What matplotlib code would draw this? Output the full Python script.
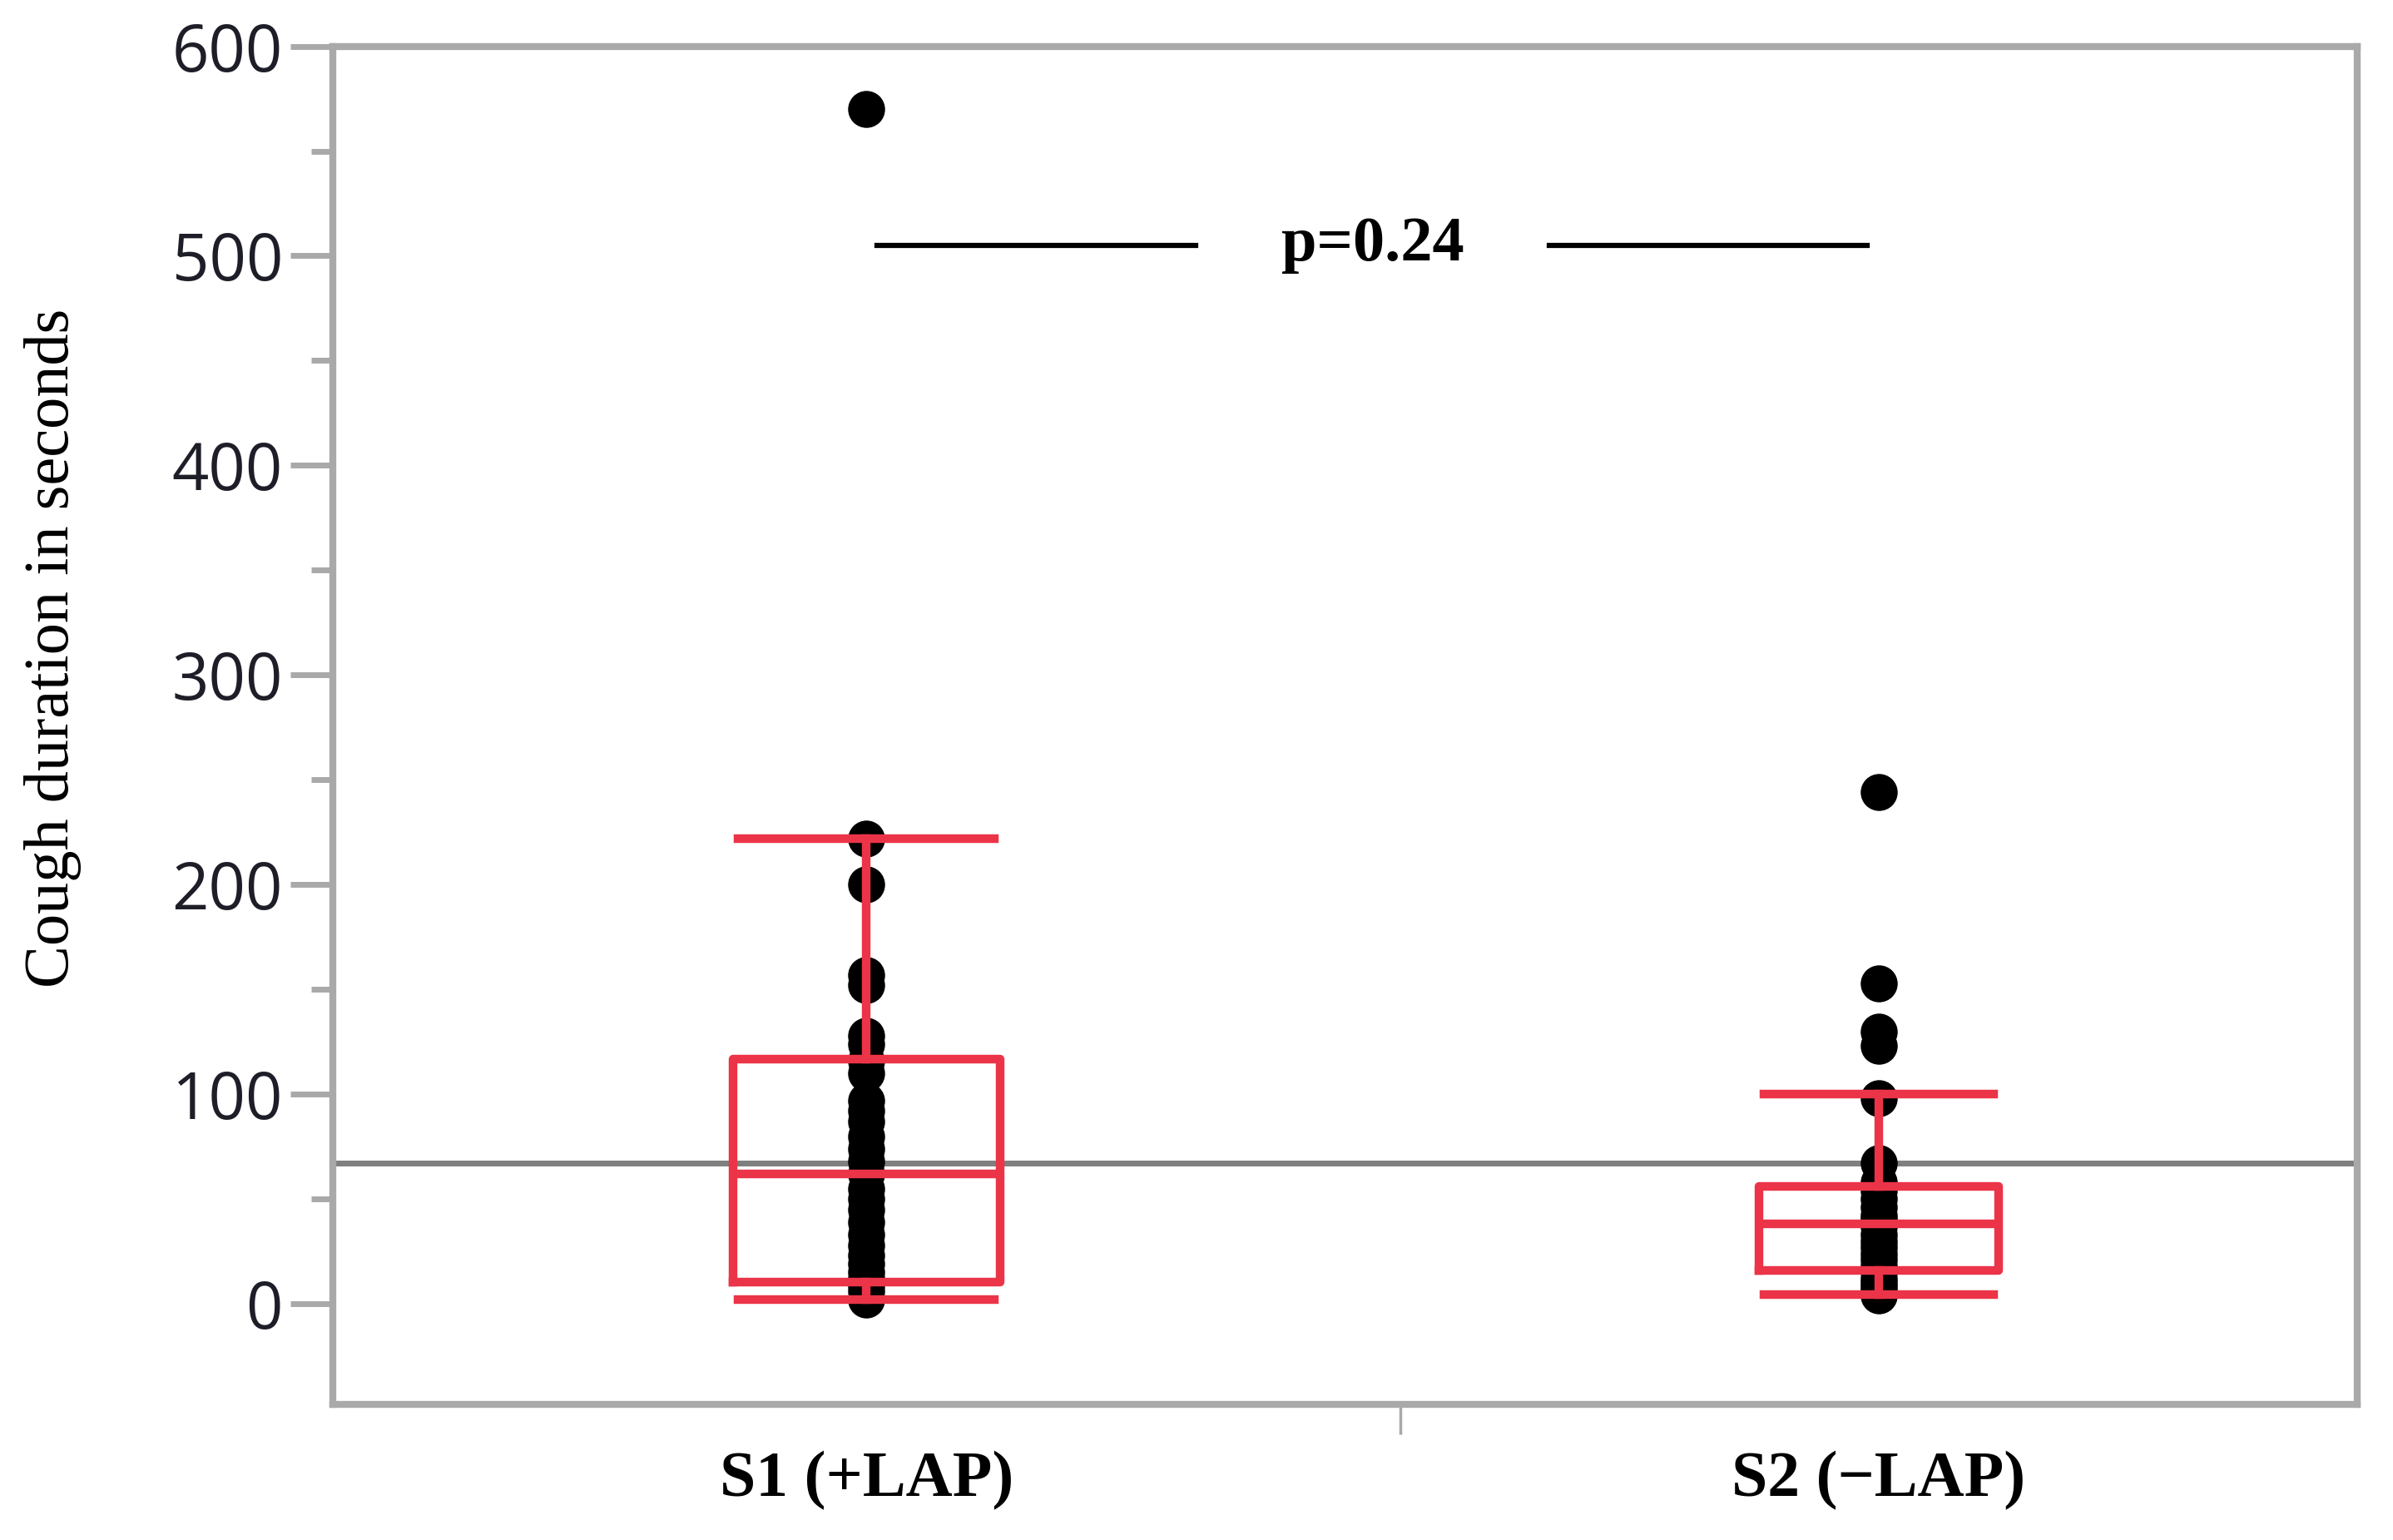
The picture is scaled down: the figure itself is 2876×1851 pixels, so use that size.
import matplotlib
matplotlib.use("Agg")
import matplotlib.pyplot as plt
import numpy as np

# Group names and individual cough durations (seconds)
groups = ["S1 (+LAP)", "S2 (\u2212LAP)"]
s1_values = [570, 222, 200, 157, 152, 128, 124, 116, 110, 97, 92, 87, 80, 74,
             68, 62, 55, 50, 45, 39, 33, 28, 23, 19, 15, 12, 9, 6, 2]
s2_values = [244, 153, 130, 123, 98, 67, 58, 54, 50, 46, 42, 40, 38, 37, 33,
             30, 27, 24, 21, 18, 15, 12, 10, 8, 6, 4]

# Box plot summary (JMP style quantiles)
whisker_low = [2.2, 4.4]
q1 = [10.2, 16]
medians = [62, 38]
q3 = [116.6, 56]
whisker_high = [222, 100]

grand_mean = 67
p_text = "p=0.24"
p_level = 505

y_ticks = [0, 100, 200, 300, 400, 500, 600]
y_minor = [50, 150, 250, 350, 450, 550]

RED = "#EB3448"
FRAME = "#A9A9A9"

fig = plt.figure(figsize=(28.76, 18.51), dpi=100)
ax = fig.add_axes([0.139, 0.088, 0.846, 0.882])

# JMP lays out groups with widths proportional to group size
data = [s1_values, s2_values]
counts = np.array([len(d) for d in data])
edges = np.concatenate([[0], np.cumsum(counts)])
centers = (edges[:-1] + edges[1:]) / 2.0

# grand mean line
ax.axhline(grand_mean, color="#7F7F7F", lw=5, zorder=1)

# points
for c, vals in zip(centers, data):
    ax.plot(np.full(len(vals), c), vals, "o", color="black", ms=32, mec="none", zorder=2)

# boxes
stats = []
for i in range(len(groups)):
    stats.append(dict(whislo=whisker_low[i], q1=q1[i], med=medians[i],
                      q3=q3[i], whishi=whisker_high[i], fliers=[]))
red_line = dict(color=RED, lw=7.5)
ax.bxp(stats, positions=centers, widths=0.25 * counts, capwidths=0.24 * counts,
       showfliers=False, manage_ticks=False,
       boxprops=red_line, whiskerprops=red_line, capprops=red_line,
       medianprops=red_line, zorder=3)

# p-value annotation
mid = centers.mean()
gap = 4.8
ax.plot([centers[0] + 0.3, mid - gap], [p_level, p_level], color="black", lw=4.5, zorder=4)
ax.plot([mid + gap, centers[1] - 0.3], [p_level, p_level], color="black", lw=4.5, zorder=4)
ax.text(mid, p_level, p_text, ha="center", va="center", fontsize=55,
        fontweight="bold", family="Liberation Serif")

# axes
ax.set_xlim(edges[0], edges[-1])
ax.set_ylim(-48, 600)
for s in ax.spines.values():
    s.set_color(FRAME)
    s.set_linewidth(6)

ax.set_yticks(y_ticks)
ax.set_yticks(y_minor, minor=True)
ax.tick_params(axis="y", which="major", length=37, width=5, color=FRAME,
               labelsize=56, labelcolor="#1E1E28", pad=6)
ax.tick_params(axis="y", which="minor", length=19, width=5, color=FRAME)
for lab in ax.get_yticklabels():
    lab.set_family("Open Sans")

ax.set_xticks(centers)
ax.set_xticklabels(groups, fontsize=56, fontweight="bold", family="Liberation Serif")
ax.set_xticks(edges[1:-1], minor=True)
ax.tick_params(axis="x", which="major", length=0, pad=40)
ax.tick_params(axis="x", which="minor", length=26, width=2.5, color=FRAME)

fig.text(0.022, 0.579, "Cough duration in seconds", rotation=90, ha="center",
         va="center", fontsize=55, family="Liberation Serif")

fig.savefig("out.png", dpi=100)
